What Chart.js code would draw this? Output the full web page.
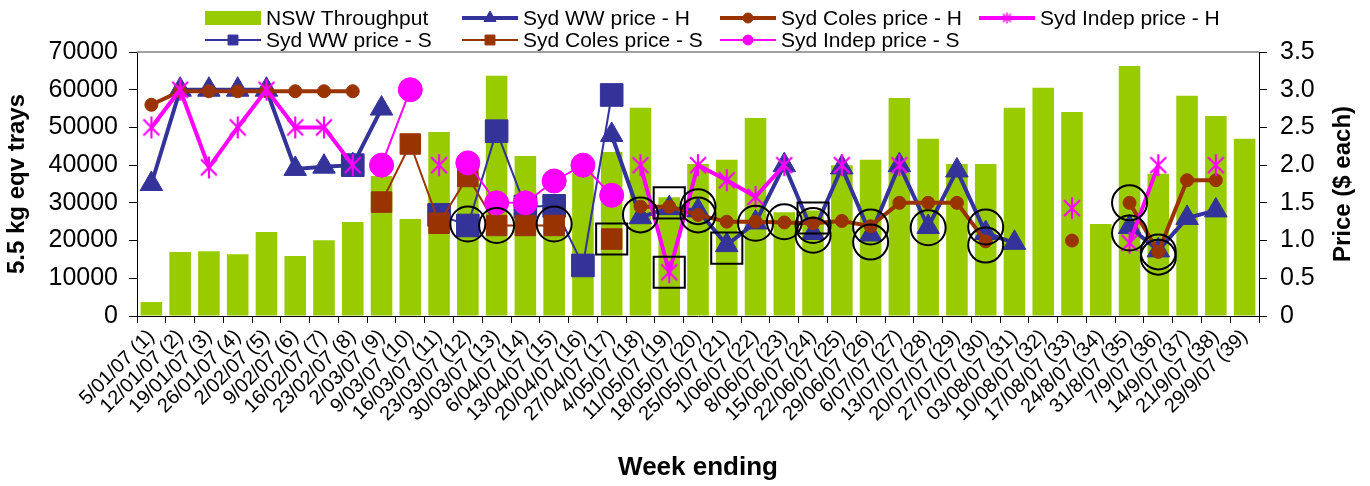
<!DOCTYPE html>
<html>
<head>
<meta charset="utf-8">
<script src="https://cdn.jsdelivr.net/npm/chart.js@4.4.1/dist/chart.umd.min.js"></script>
<style>
  html, body { margin: 0; padding: 0; background: #fff; }
</style>
</head>
<body>
<canvas id="chart" width="1370" height="486"></canvas>
<script>
const weeks = ['5/01/07 (1)', '12/01/07 (2)', '19/01/07 (3)', '26/01/07 (4)', '2/02/07 (5)', '9/02/07 (6)',
    '16/02/07 (7)', '23/02/07 (8)', '2/03/07 (9)', '9/03/07 (10)', '16/03/07 (11)', '23/03/07 (12)',
    '30/03/07 (13)', '6/04/07 (14)', '13/04/07 (15)', '20/04/07 (16)', '27/04/07 (17)', '4/05/07 (18)',
    '11/05/07 (19)', '18/05/07 (20)', '25/05/07 (21)', '1/06/07 (22)', '8/06/07 (23)', '15/06/07 (24)',
    '22/06/07 (25)', '29/06/07 (26)', '6/07/07 (27)', '13/07/07 (28)', '20/07/07 (29)', '27/07/07 (30)',
    '03/08/07 (31)', '10/08/07 (32)', '17/08/07 (33)', '24/8/07 (34)', '31/8/07 (35)', '7/9/07 (36)',
    '14/9/07 (37)', '21/9/07 (38)', '29/9/07 (39)'];

const nswThroughput = [3700, 17000, 17200, 16400, 22300, 15900, 20100, 24900, 37100, 25700, 48800, 38000,
    63700, 42400, 30000, 38000, 43500, 55200, 31500, 40300, 41400, 52500, 27500, 28000, 40000, 41400,
    57800, 47000, 40300, 40300, 55200, 60500, 54100, 24400, 66300, 37700, 58400, 53000, 47000];

const wwPriceH = [1.75, 3.0, 3.0, 3.0, 3.0, 1.95, 1.98, 2.0, 2.75, null, null, null, null, null, null, null,
    2.4, 1.31, 1.43, 1.4, 0.94, 1.24, 2.0, 1.1, 1.97, 1.08, 2.0, 1.18, 1.93, 1.1, 0.97, null, null, null,
    1.18, 0.87, 1.3, 1.4, null];

const colesPriceH = [2.8, 2.98, 2.98, 2.98, 2.98, 2.98, 2.98, 2.98, null, null, null, null, null, null, null,
    null, null, 1.45, 1.45, 1.34, 1.25, 1.25, 1.24, 1.23, 1.26, 1.19, 1.5, 1.5, 1.5, 0.99, null, null, 1.0,
    null, 1.5, 0.85, 1.8, 1.8, null];

const indepPriceH = [2.5, 3.0, 1.97, 2.5, 3.0, 2.5, 2.5, 2.0, null, null, 2.0, null, null, null, null, null,
    null, 2.0, 0.58, 2.0, 1.8, 1.58, 2.0, null, 2.0, null, 2.0, null, null, null, null, null, 1.43, null,
    0.97, 2.0, null, 2.0, null];

const wwPriceS = [null, null, null, null, null, null, null, 2.0, null, null, 1.34, 1.2, 2.45, 1.45, 1.46, 0.67,
    2.93, null, null, null, null, null, null, null, null, null, null, null, null, null, null, null, null,
    null, null, null, null, null, null];

const colesPriceS = [null, null, null, null, null, null, null, null, 1.51, 2.28, 1.23, 1.85, 1.2, 1.2, 1.2, null,
    1.02, null, null, null, null, null, null, null, null, null, null, null, null, null, null, null, null,
    null, null, null, null, null, null];

const indepPriceS = [null, null, null, null, null, null, null, null, 2.0, 3.0, null, 2.03, 1.5, 1.5, 1.79, 2.0,
    1.6, null, null, null, null, null, null, null, null, null, null, null, null, null, null, null, null,
    null, null, null, null, null, null];

// black hollow highlight marks drawn over the price points
const circleMarksA = [null, null, null, null, null, null, null, null, null, null, null, 1.22, 1.2, null, 1.22,
    null, null, 1.34, null, 1.34, null, 1.23, 1.25, 1.2, null, 1.18, null, 1.17, null, 1.18, null, null,
    null, null, 1.5, 0.85, null, null, null];
const circleMarksB = [null, null, null, null, null, null, null, null, null, null, null, null, null, null, null,
    null, null, null, null, 1.45, null, null, null, 1.07, null, 0.98, null, null, null, 0.94, null, null,
    null, null, 1.1, 0.78, null, null, null];
const squareMarksA = [null, null, null, null, null, null, null, null, null, null, null, null, null, null, null,
    null, 1.02, null, 1.5, null, 0.9, null, null, 1.3, null, null, null, null, null, null, null, null,
    null, null, null, null, null, null, null];
const squareMarksB = [null, null, null, null, null, null, null, null, null, null, null, null, null, null, null,
    null, null, null, 0.58, null, null, null, null, null, null, null, null, null, null, null, null, null,
    null, null, null, null, null, null, null];

const GREEN = '#99CC00';
const NAVY = '#333399';
const BROWN = '#993300';
const MAGENTA = '#FF00FF';

function makeAsterisk(size, color, width) {
    const c = document.createElement('canvas');
    c.width = size;
    c.height = size;
    const g = c.getContext('2d');
    const m = size / 2;
    const r = size / 2 - 1;
    const d = r * 0.72;
    g.strokeStyle = color;
    g.lineWidth = width;
    g.beginPath();
    g.moveTo(m, m - r); g.lineTo(m, m + r);
    g.moveTo(m - d, m - d); g.lineTo(m + d, m + d);
    g.moveTo(m + d, m - d); g.lineTo(m - d, m + d);
    g.stroke();
    return c;
}

const asteriskBig = makeAsterisk(24, MAGENTA, 2.2);
const asteriskSmall = makeAsterisk(13, MAGENTA, 1.5);

function priceLine(label, data, color, width, style, radius, order, legendStyle, legendRadius) {
    return {
        type: 'line',
        label: label,
        data: data,
        yAxisID: 'y1',
        borderColor: color,
        backgroundColor: color,
        borderWidth: width,
        pointStyle: style,
        pointRadius: radius,
        pointHoverRadius: radius,
        pointBackgroundColor: color,
        pointBorderColor: color,
        pointBorderWidth: 1,
        tension: 0,
        spanGaps: false,
        order: order,
        legendStyle: legendStyle,
        legendRadius: legendRadius
    };
}

function markSet(data, style, radius) {
    return {
        type: 'line',
        label: '',
        isMark: true,
        data: data,
        yAxisID: 'y1',
        showLine: false,
        pointStyle: style,
        pointRadius: radius,
        pointHoverRadius: radius,
        pointBackgroundColor: 'rgba(0,0,0,0)',
        pointBorderColor: '#000',
        pointBorderWidth: 2,
        order: 0
    };
}

const sheetLegend = {
    id: 'sheetLegend',
    afterDraw(chart) {
        const ctx = chart.ctx;
        const cols = [205, 462, 720, 979];
        const rows = [18, 40];
        const slots = [[0, 0], [0, 1], [0, 2], [0, 3], [1, 0], [1, 1], [1, 2]];
        const items = chart.data.datasets.filter(d => !d.isMark);
        ctx.save();
        ctx.font = '21px Arial, "Liberation Sans", sans-serif';
        ctx.textBaseline = 'middle';
        ctx.textAlign = 'left';
        items.forEach((d, i) => {
            const x = cols[slots[i][1]];
            const y = rows[slots[i][0]];
            if (d.type === 'bar') {
                ctx.fillStyle = d.backgroundColor;
                ctx.fillRect(x, y - 7, 56, 14);
            } else {
                ctx.strokeStyle = d.borderColor;
                ctx.lineWidth = d.borderWidth;
                ctx.beginPath();
                ctx.moveTo(x, y);
                ctx.lineTo(x + 56, y);
                ctx.stroke();
                ctx.fillStyle = d.borderColor;
                ctx.lineWidth = 1;
                Chart.helpers.drawPoint(ctx, {
                    pointStyle: d.legendStyle,
                    radius: d.legendRadius,
                    rotation: 0,
                    borderWidth: 1
                }, x + 28, y);
            }
            ctx.fillStyle = '#000';
            ctx.fillText(d.label, x + 61, y + 1);
        });

        // right axis title, reading bottom to top
        const area = chart.chartArea;
        ctx.font = 'bold 24px Arial, "Liberation Sans", sans-serif';
        ctx.textAlign = 'center';
        ctx.translate(1343, (area.top + area.bottom) / 2);
        ctx.rotate(-Math.PI / 2);
        ctx.fillText('Price ($ each)', 0, 0);
        ctx.restore();

        // top border of the plot
        ctx.save();
        ctx.strokeStyle = '#808080';
        ctx.lineWidth = 1.5;
        ctx.beginPath();
        ctx.moveTo(area.left, area.top);
        ctx.lineTo(area.right, area.top);
        ctx.stroke();
        ctx.restore();
    }
};

Chart.defaults.font.family = 'Arial, "Liberation Sans", sans-serif';
Chart.defaults.color = '#000';

const ctx = document.getElementById('chart').getContext('2d');
window.chart = new Chart(ctx, {
    type: 'bar',
    data: {
        labels: weeks,
        datasets: [
            {
                type: 'bar',
                label: 'NSW Throughput',
                data: nswThroughput,
                yAxisID: 'y',
                backgroundColor: GREEN,
                borderWidth: 0,
                barPercentage: 0.75,
                categoryPercentage: 1.0,
                order: 20
            },
            priceLine('Syd WW price - H', wwPriceH, NAVY, 4, 'triangle', 13, 7, 'triangle', 7),
            priceLine('Syd Coles price - H', colesPriceH, BROWN, 4, 'circle', 6.5, 6, 'circle', 5),
            priceLine('Syd Indep price - H', indepPriceH, MAGENTA, 4, asteriskBig, 12, 4, asteriskSmall, 6),
            priceLine('Syd WW price - S', wwPriceS, NAVY, 2, 'rect', 16, 9, 'rect', 7),
            priceLine('Syd Coles price - S', colesPriceS, BROWN, 2, 'rect', 14.5, 8, 'rect', 7),
            priceLine('Syd Indep price - S', indepPriceS, MAGENTA, 2, 'circle', 12, 5, 'circle', 5),
            markSet(circleMarksA, 'circle', 17.5),
            markSet(circleMarksB, 'circle', 17.5),
            markSet(squareMarksA, 'rect', 22),
            markSet(squareMarksB, 'rect', 22)
        ]
    },
    options: {
        responsive: false,
        animation: false,
        layout: { padding: { top: 52, right: 0, bottom: 0, left: 0 } },
        plugins: {
            legend: { display: false },
            tooltip: { enabled: false }
        },
        scales: {
            x: {
                offset: true,
                grid: { offset: true, drawOnChartArea: false, drawTicks: true, tickLength: 7, color: '#000' },
                border: { display: true, color: '#000', width: 1 },
                ticks: {
                    autoSkip: false,
                    minRotation: 45,
                    maxRotation: 45,
                    padding: 2,
                    font: { size: 20 }
                },
                title: {
                    display: true,
                    text: 'Week ending',
                    font: { size: 26, weight: 'bold' },
                    padding: { top: 0, bottom: 3 }
                },
                afterFit: (scale) => { scale.height = 170; }
            },
            y: {
                position: 'left',
                min: 0,
                max: 70000,
                ticks: {
                    stepSize: 10000,
                    padding: 11,
                    font: { size: 25 },
                    callback: (v) => String(v)
                },
                grid: { drawOnChartArea: false, drawTicks: true, tickLength: 8, color: '#000' },
                border: { display: true, color: '#000', width: 1 },
                title: {
                    display: true,
                    text: '5.5 kg eqv trays',
                    font: { size: 24, weight: 'bold' },
                    padding: { top: 3, bottom: 0 }
                },
                afterFit: (scale) => { scale.width = 137; }
            },
            y1: {
                position: 'right',
                min: 0,
                max: 3.5,
                ticks: { stepSize: 0.5, padding: 13, font: { size: 25 } },
                grid: { drawOnChartArea: false, drawTicks: true, tickLength: 8, color: '#000' },
                border: { display: true, color: '#000', width: 1 },
                afterFit: (scale) => { scale.width = 111; }
            }
        }
    },
    plugins: [sheetLegend]
});
</script>
</body>
</html>
